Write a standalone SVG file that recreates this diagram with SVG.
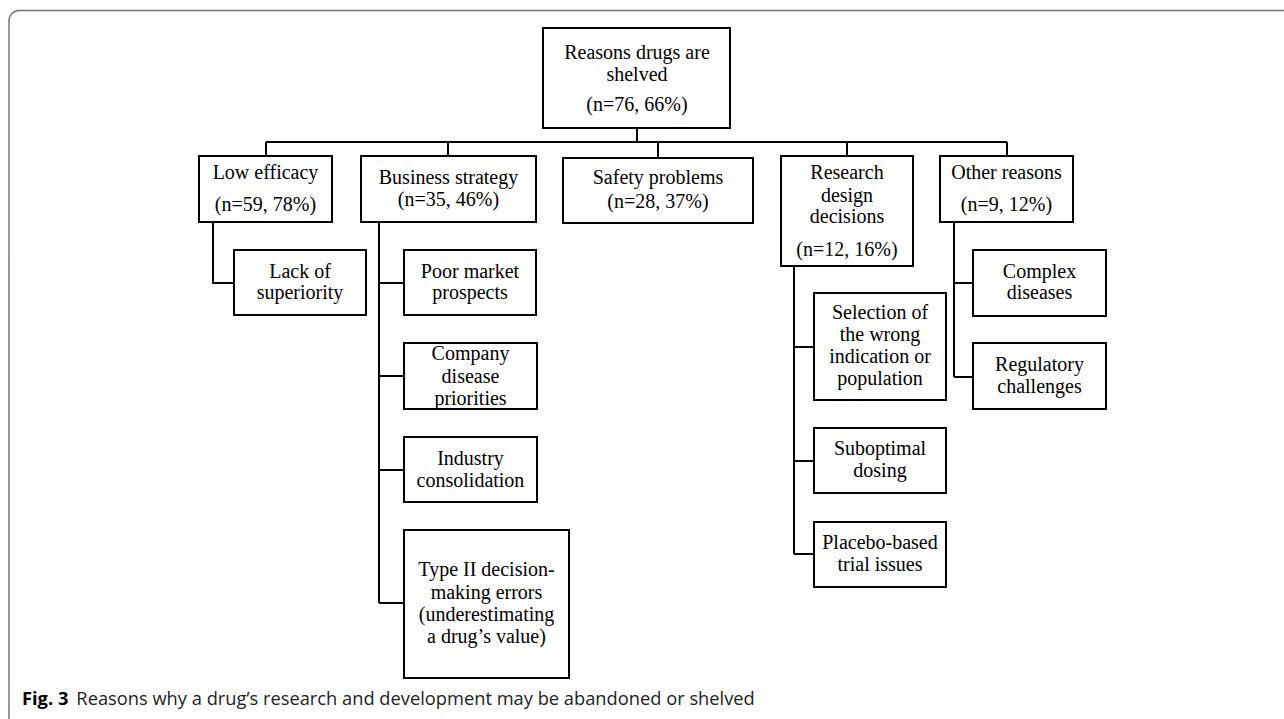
<svg xmlns="http://www.w3.org/2000/svg" width="1284" height="719" viewBox="0 0 1284 719">
<style>
.box{fill:#fff;stroke:#000;stroke-width:2}
.t{font-family:"Liberation Serif","Times New Roman",serif;font-size:20px;fill:#000;text-anchor:middle}
.ln{fill:none;stroke:#000;stroke-width:2}
.cap{font-family:"Open Sans","Liberation Sans",sans-serif;font-size:18.3px;fill:#222}
</style>
<rect x="9" y="10.5" width="1300" height="722" rx="10" fill="none" stroke="#777" stroke-width="1.5"/>
<g id="connectors" class="ln">
<path d="M637 128V142M266 142H1007M266 142V156M448 142V156M658 142V158M847 142V156M1007 142V156"/>
<path d="M213 222V283H234"/>
<path d="M379 222V603M379 283H404M379 376H404M379 470H404M379 603H404"/>
<path d="M794 266V554M794 347H814M794 461H814M794 554H814"/>
<path d="M954 222V377M954 283H973M954 377H973"/>
</g>
<g id="root"><rect class="box" x="543" y="28" width="187" height="100"/>
<text class="t" x="637" y="59">Reasons drugs are</text><text class="t" x="637" y="81">shelved</text><text class="t" x="637" y="111">(n=76, 66%)</text></g>
<g id="low-efficacy"><rect class="box" x="199" y="156" width="133" height="66"/>
<text class="t" x="265.5" y="179">Low efficacy</text><text class="t" x="265.5" y="211">(n=59, 78%)</text></g>
<g id="business"><rect class="box" x="361" y="156" width="175" height="66"/>
<text class="t" x="448.5" y="184">Business strategy</text><text class="t" x="448.5" y="206">(n=35, 46%)</text></g>
<g id="safety"><rect class="box" x="563" y="158" width="190" height="65"/>
<text class="t" x="658" y="184">Safety problems</text><text class="t" x="658" y="208">(n=28, 37%)</text></g>
<g id="research"><rect class="box" x="781" y="156" width="132" height="110"/>
<text class="t" x="847" y="179">Research</text><text class="t" x="847" y="202">design</text><text class="t" x="847" y="223">decisions</text><text class="t" x="847" y="256">(n=12, 16%)</text></g>
<g id="other"><rect class="box" x="940" y="156" width="133" height="66"/>
<text class="t" x="1006.5" y="179">Other reasons</text><text class="t" x="1006.5" y="211">(n=9, 12%)</text></g>
<g id="lack-superiority"><rect class="box" x="234" y="250" width="132" height="65"/>
<text class="t" x="300" y="278">Lack of</text><text class="t" x="300" y="299">superiority</text></g>
<g id="poor-market"><rect class="box" x="404" y="250" width="132" height="65"/>
<text class="t" x="470" y="278">Poor market</text><text class="t" x="470" y="299">prospects</text></g>
<g id="company"><rect class="box" x="404" y="343" width="133" height="66"/>
<text class="t" x="470.5" y="360">Company</text><text class="t" x="470.5" y="383">disease</text><text class="t" x="470.5" y="405">priorities</text></g>
<g id="industry"><rect class="box" x="404" y="437" width="133" height="65"/>
<text class="t" x="470.5" y="465">Industry</text><text class="t" x="470.5" y="487">consolidation</text></g>
<g id="type2"><rect class="box" x="404" y="530" width="165" height="148"/>
<text class="t" x="486.5" y="576">Type II decision-</text><text class="t" x="486.5" y="599">making errors</text><text class="t" x="486.5" y="621">(underestimating</text><text class="t" x="486.5" y="643">a drug’s value)</text></g>
<g id="selection"><rect class="box" x="814" y="293" width="132" height="107"/>
<text class="t" x="880" y="319">Selection of</text><text class="t" x="880" y="341">the wrong</text><text class="t" x="880" y="363">indication or</text><text class="t" x="880" y="385">population</text></g>
<g id="suboptimal"><rect class="box" x="814" y="428" width="132" height="65"/>
<text class="t" x="880" y="455">Suboptimal</text><text class="t" x="880" y="477">dosing</text></g>
<g id="placebo"><rect class="box" x="814" y="522" width="132" height="65"/>
<text class="t" x="880" y="549">Placebo-based</text><text class="t" x="880" y="571">trial issues</text></g>
<g id="complex"><rect class="box" x="973" y="250" width="133" height="66"/>
<text class="t" x="1039.5" y="278">Complex</text><text class="t" x="1039.5" y="299">diseases</text></g>
<g id="regulatory"><rect class="box" x="973" y="343" width="133" height="66"/>
<text class="t" x="1039.5" y="371">Regulatory</text><text class="t" x="1039.5" y="393">challenges</text></g>
<text class="cap" x="22" y="705"><tspan font-weight="bold" fill="#000">Fig. 3</tspan><tspan dx="8">Reasons why a drug’s research and development may be abandoned or shelved</tspan></text>
</svg>
